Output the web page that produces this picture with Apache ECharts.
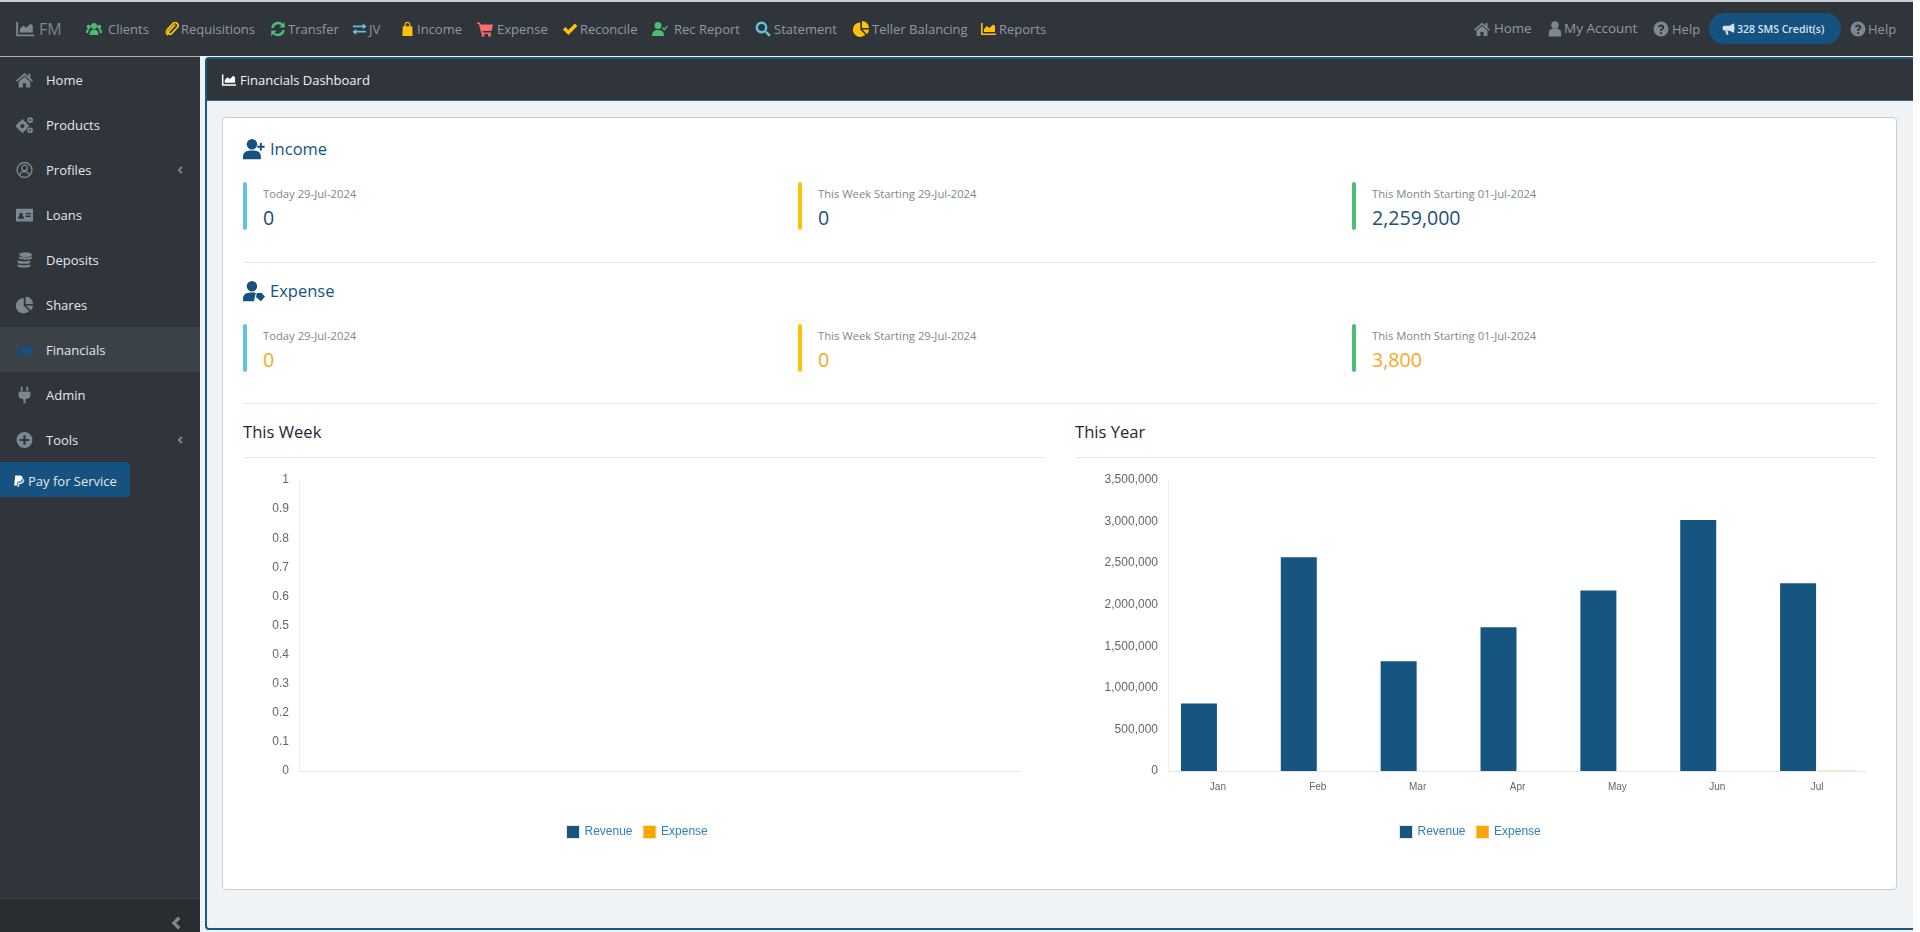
<!DOCTYPE html>
<html>
<head>
<meta charset="utf-8">
<title>Financials Dashboard</title>
<script src="https://cdn.jsdelivr.net/npm/echarts@6/dist/echarts.min.js"></script>
<style>
  html, body { margin: 0; padding: 0; width: 1920px; height: 932px; overflow: hidden; background: #fff; }
  body { font-family: "Open Sans", sans-serif; position: relative; }
  .box { position: absolute; box-sizing: border-box; }
  .t { position: absolute; white-space: nowrap; line-height: 1; transform: translateY(-50%); }
  .i { position: absolute; transform: translateY(-50%); fill: currentColor; }
  #weekChart { position: absolute; left: 240px; top: 465px; width: 810px; height: 385px; }
  #yearChart { position: absolute; left: 1070px; top: 465px; width: 806px; height: 385px; }
</style>
</head>
<body>
<div class="box" style="left:0;top:0;width:1913px;height:2px;background:#c8ced3"></div>
<div class="box" style="left:0;top:2px;width:1913px;height:54px;background:#2f353a"></div>
<div class="box" style="left:0;top:56px;width:200px;height:876px;background:#2f353a;border-top:1px solid #a9b0b5"></div>
<div class="box" style="left:200px;top:56px;width:1713px;height:876px;background:#f0f3f5"></div>
<div class="box" style="left:205px;top:57px;width:1708px;height:873px;border:2px solid #1a5a85;border-right:0;border-radius:4px 0 0 4px"></div>
<div class="box" style="left:207px;top:59px;width:1706px;height:42px;background:#2f353a;border-bottom:1px solid #2a6a96"></div>
<div class="box" style="left:222px;top:117px;width:1675px;height:773px;background:#fff;border:1px solid #c8ced3;border-radius:4px"></div>
<div class="box" style="left:0;top:327px;width:200px;height:45px;background:#3a4248"></div>
<div class="box" style="left:0;top:898px;width:200px;height:34px;background:#282d31;border-top:1px solid #343a3e"></div>
<div class="box" style="left:0;top:462px;width:130px;height:35px;background:#15527f;border-radius:0 3px 3px 0"></div>
<div class="box" style="left:1709px;top:13px;width:132px;height:31px;background:#15527f;border-radius:16px"></div>
<div id="weekChart"></div>
<div id="yearChart"></div>
<script>
// chart data
var weekCategories = []
var weekRevenue = []
var weekExpense = []
var monthCategories = ['Jan', 'Feb', 'Mar', 'Apr', 'May', 'Jun', 'Jul']
var yearRevenue = [812000, 2570000, 1320000, 1728000, 2170000, 3018000, 2259000]
var yearExpense = [0, 0, 0, 0, 0, 0, 3800]
var legendNames = ['Revenue', 'Expense']
var seriesColors = ['#15557f', '#ffa500']

var icons = {
  chart: '<path d="M1 2h1.600v10.600H16V14H1z"/><path d="M4 11V8l3-3 2.500 2L13 3.500l2 1.500v6z"/>',
  users: '<circle cx="8" cy="5" r="3"/><path d="M3.500 14c0-4 2-5.500 4.500-5.500s4.500 1.500 4.500 5.500z"/><circle cx="2.800" cy="5.800" r="2.100"/><circle cx="13.200" cy="5.800" r="2.100"/><path d="M0 12c0-3 1-4.200 2.800-4.200l.7.300C2.500 9.200 2.200 10.800 2.200 12zM16 12c0-3-1-4.200-2.800-4.200l-.7.300c1 1.100 1.300 2.700 1.300 3.900z"/>',
  clip: '<path d="M11.500 3L4.500 10.500a2 2 0 0 0 3 2.800l6.500-7a3.300 3.300 0 0 0-5-4.500L2.500 9a4.600 4.600 0 0 0 1 6" fill="none" stroke="currentColor" stroke-width="2"/>',
  refresh: '<path d="M2.500 7a5.700 5.700 0 0 1 10-3" fill="none" stroke="currentColor" stroke-width="2.400"/><path d="M14.800 1v5.500H9.300zM1.200 15V9.500h5.500z"/><path d="M13.500 9a5.700 5.700 0 0 1-10 3" fill="none" stroke="currentColor" stroke-width="2.400"/>',
  exchange: '<path d="M1 4.200h10.500V1.800L15.500 5.300 11.500 8.300V6.200H1zM15 9.800H4.500V7.700L.5 11 4.500 14.300V11.800H15z"/>',
  bag: '<path d="M3 5h10l.5 10.500h-11z"/><path d="M5.500 6V3.500a2.500 2.500 0 0 1 5 0V6" fill="none" stroke="currentColor" stroke-width="1.300"/>',
  cart: '<path d="M0 1.500h3l.6 2H16l-1.500 6.500H5.500l.4 1.500h8.100v1.500H4.500L1.900 3H0z"/><circle cx="6" cy="14.300" r="1.500"/><circle cx="12.500" cy="14.300" r="1.500"/>',
  check: '<path d="M1 8.500l2.400-2.400 3 3L12.800 2.500 15.400 5l-9 9z"/>',
  userCheck: '<circle cx="6" cy="4.500" r="3.500"/><path d="M0 15c0-4.500 2.500-6 6-6s6 1.500 6 6z"/><path d="M10 7.500l1.200-1.200 1.300 1.300 2.500-3 1 1-3.500 4z"/>',
  search: '<circle cx="6.500" cy="6.500" r="4.700" fill="none" stroke="currentColor" stroke-width="2.400"/><path d="M10 11.700l1.700-1.700 4 4.100-1.700 1.700z"/>',
  pie: '<path d="M7.300 1.500v7.200l5 5A7.200 7.200 0 1 1 7.300 1.500z"/><path d="M9 0a7 7 0 0 1 7 7H9z"/><path d="M9.300 8.500H16a7 7 0 0 1-2 4.700z"/>',
  home: '<path d="M8 1.500L0 8.500l1 1.200L8 3.800l7 5.900 1-1.200-2.500-2.200V2h-2v2.600z"/><path d="M8 5L2.500 9.600V15h4v-4h3v4h4V9.600z"/>',
  user: '<circle cx="8" cy="4" r="3.800"/><path d="M1.800 15.500V12c0-3 2-4.500 6.200-4.500s6.200 1.500 6.200 4.500v3.500z"/>',
  help: '<path fill-rule="evenodd" d="M8 .5a7.500 7.500 0 1 1 0 15 7.500 7.500 0 0 1 0-15zM5 5.800l1.600.9C6.900 6 7.300 5.500 8 5.500s1.200.4 1.200.9c0 1.100-2.200 1.300-2.200 3.200v.4h2v-.3c0-1.100 2.300-1.400 2.300-3.400C11.300 4.500 9.800 3.500 8 3.500 6.600 3.500 5.600 4.400 5 5.800zM7 11.200v1.800h2v-1.800z"/>',
  horn: '<path d="M15 1v12L9 10H3.500a2 2 0 0 1 0-6H9z"/><path d="M4 10.500h3l1 4.500H5.500z"/><path d="M15.500 5.500a1.600 1.600 0 0 1 0 3z"/>',
  cogs: '<circle cx="6" cy="9" r="3.500" fill="none" stroke="currentColor" stroke-width="3"/><path d="M4.800 2.800h2.400v2H4.800zM4.800 13.200h2.400v2H4.800zM0 7.800h2v2.400H0zM10 7.800h2v2.400h-2z"/><circle cx="13.300" cy="3.300" r="1.800" fill="none" stroke="currentColor" stroke-width="1.800"/><circle cx="13.300" cy="13" r="1.800" fill="none" stroke="currentColor" stroke-width="1.800"/>',
  userCircle: '<circle cx="8" cy="8" r="7" fill="none" stroke="currentColor" stroke-width="1.300"/><circle cx="8" cy="6" r="2.600" fill="none" stroke="currentColor" stroke-width="1.200"/><path d="M3.500 12.500c.5-2.300 2-3 4.500-3s4 .7 4.500 3" fill="none" stroke="currentColor" stroke-width="1.200"/>',
  card: '<path fill-rule="evenodd" d="M0 2h16v12H0zM2 5.500v6h5.500v-1.700L6 8.800a1.700 1.700 0 1 0-2.500 0L2 9.800zM9 6v1.300h5V6zM9 8.500v1.300h5V8.500z"/>',
  coins: '<ellipse cx="9" cy="3" rx="6" ry="2.300"/><path d="M3 4.600c1.500 1.300 10.500 1.300 12 0v2c-1.500 1.500-10.500 1.500-12 0z"/><path d="M1.500 8.300c1.500 1.300 10.500 1.300 12 0v2.200c-1.500 1.500-10.500 1.500-12 0z"/><path d="M1.500 12c1.500 1.300 10.500 1.300 12 0v1.800c-1.500 1.800-10.500 1.800-12 0z"/>',
  plug: '<path d="M4.500 0h1.800v4.500H4.500zM9.700 0h1.800v4.500H9.700zM2.500 5h11v3.500c0 2-1.500 3.300-4.500 3.500v4H7v-4c-3-.2-4.500-1.500-4.500-3.500z"/>',
  plus: '<path fill-rule="evenodd" d="M8 .5a7.500 7.500 0 1 1 0 15 7.500 7.500 0 0 1 0-15zM7 3.500v3.500H3.500v2H7v3.500h2V9h3.500V7H9V3.500z"/>',
  paypal: '<path d="M3 .5h6c3 0 4.500 1.700 3.800 4.300C12.200 7.500 10.200 9 7.500 9H6l-1 5H1.500z"/><path d="M13.800 4.500c1.400 1 1.600 2.600 1 4.300-.8 2-2.500 3.200-4.700 3.200H8.800L8 15.500H5.600L6.300 10h1.800c3 0 5.200-2 5.700-5z" opacity=".8"/>',
  back: '<path d="M11 1.500L13.500 4l-4.500 4 4.500 4-2.500 2.500L4.500 8z"/>',
  userPlus: '<circle cx="6.500" cy="4.500" r="3.800"/><path d="M0 15.500v-2c0-3 2-4.500 6.500-4.500s6.500 1.500 6.500 4.500v2z"/><path d="M12.300 3.700h1.400v2h2v1.400h-2v2h-1.400v-2h-2V5.700h2z"/>',
  userTag: '<circle cx="6.500" cy="4.500" r="3.800"/><path d="M0 15.500v-2c0-3 2-4.500 6.500-4.500 1 0 2 .1 2.800.3l-1.300 6.200z"/><path d="M10 9.500h3.500l2.500 2.500-3 3.500-3.500-3z"/>'
}
var green = '#4dbd74', yellow = '#ffc107', sky = '#63c2de', red = '#f86c6b', gray = '#7b8791', navy = '#15527f'

function icon(name, x, y, size, color) {
  document.body.insertAdjacentHTML('beforeend',
    '<svg class="i" viewBox="0 0 16 16" width="' + size + '" height="' + size + '" style="left:' + x + 'px;top:' + y + 'px;color:' + color + '">' + icons[name] + '</svg>')
}
function label(text, x, y, size, color, extra) {
  document.body.insertAdjacentHTML('beforeend',
    '<div class="t" style="left:' + x + 'px;top:' + y + 'px;font-size:' + size + 'px;color:' + color + ';' + (extra || '') + '">' + text + '</div>')
}
function block(x, y, w, h, color, radius) {
  document.body.insertAdjacentHTML('beforeend',
    '<div class="box" style="left:' + x + 'px;top:' + y + 'px;width:' + w + 'px;height:' + h + 'px;background:' + color + ';border-radius:' + (radius || 0) + 'px"></div>')
}

// top bar
icon('chart', 15, 29, 19, gray)
label('FM', 39, 29, 16, gray)
;[
  ['Clients', 'users', 86, 108, green, 16, 13],
  ['Requisitions', 'clip', 165, 181, yellow, 14, 13],
  ['Transfer', 'refresh', 270, 288, green, 16, 13],
  ['JV', 'exchange', 352, 369, sky, 15, 13],
  ['Income', 'bag', 400, 417, yellow, 15, 13],
  ['Expense', 'cart', 477, 497, red, 16, 13],
  ['Reconcile', 'check', 562, 580, yellow, 16, 13],
  ['Rec Report', 'userCheck', 652, 674, green, 16, 13],
  ['Statement', 'search', 755, 774, sky, 16, 13],
  ['Teller Balancing', 'pie', 853, 872, yellow, 16, 13],
  ['Reports', 'chart', 980, 999, yellow, 16, 13],
  ['Home', 'home', 1474, 1494, gray, 16, 13.300],
  ['My Account', 'user', 1547, 1564, gray, 16, 13.500],
  ['Help', 'help', 1653, 1672, gray, 16, 13],
  ['Help', 'help', 1850, 1868, gray, 16, 13]
].forEach(function(n) {
  icon(n[1], n[2], 29, n[5], n[4])
  label(n[0], n[3], 29, n[6], '#8f9aa3')
})
icon('horn', 1722, 29, 13, '#d5e3ee')
label('328 SMS Credit(s)', 1737, 29, 10.500, '#d5e3ee', 'font-weight:600')

// sidebar
;[
  ['Home', 'home', 80],
  ['Products', 'cogs', 125],
  ['Profiles', 'userCircle', 170],
  ['Loans', 'card', 215],
  ['Deposits', 'coins', 260],
  ['Shares', 'pie', 305],
  ['Financials', 'chart', 350],
  ['Admin', 'plug', 395],
  ['Tools', 'plus', 440]
].forEach(function(n) {
  icon(n[1], 16, n[2], 17, n[0] === 'Financials' ? navy : gray)
  label(n[0], 46, n[2], 13, '#e4e7ea')
})
icon('back', 175, 170, 9, gray)
icon('back', 175, 440, 9, gray)
icon('back', 167, 923, 16, gray)
icon('paypal', 13, 481, 12, '#fff')
label('Pay for Service', 28, 481, 13, '#e4e7ea')

// panel title
icon('chart', 221, 80, 15, '#fff')
label('Financials Dashboard', 240, 80, 13, '#f0f3f5')

// stats
function statRow(titleText, titleIcon, titleY, topY, rows, valueColor) {
  icon(titleIcon, 243, titleY, 22, navy)
  label(titleText, 270, titleY, 16.500, navy)
  rows.forEach(function(r) {
    block(r[0], topY, 4, 48, r[1], 2)
    label(r[2], r[0] + 20, topY + 12, 11.250, '#7b8791')
    label(r[3], r[0] + 20, topY + 36, 19.600, valueColor)
  })
}
statRow('Income', 'userPlus', 149, 182, [
  [243, sky, 'Today 29-Jul-2024', '0'],
  [798, yellow, 'This Week Starting 29-Jul-2024', '0'],
  [1352, green, 'This Month Starting 01-Jul-2024', '2,259,000']
], '#1d4f7a')
statRow('Expense', 'userTag', 291, 324, [
  [243, sky, 'Today 29-Jul-2024', '0'],
  [798, yellow, 'This Week Starting 29-Jul-2024', '0'],
  [1352, green, 'This Month Starting 01-Jul-2024', '3,800']
], '#f9a825')
block(244, 262, 1632, 1, '#e4e7ea')
block(244, 403, 1632, 1, '#e4e7ea')
label('This Week', 243, 432, 16.600, '#23282c')
label('This Year', 1075, 432, 16.600, '#23282c')
block(244, 457, 801, 1, '#e4e7ea')
block(1076, 457, 800, 1, '#e4e7ea')

function buildOption(categories, revenue, expense, yMax, yStep, gridLeft, gridWidth, legendLeft) {
  return {
    animation: false,
    color: seriesColors,
    textStyle: { fontFamily: '"Liberation Sans", Arial, sans-serif' },
    grid: { left: gridLeft, top: 15, width: gridWidth, height: 291 },
    legend: {
      data: legendNames,
      left: legendLeft,
      top: 360,
      padding: 0,
      itemWidth: 13,
      itemHeight: 13,
      itemGap: 10,
      icon: 'rect',
      itemStyle: { borderColor: '#e6e6e6', borderWidth: 1 },
      textStyle: { color: '#2d82b7', fontSize: 12 }
    },
    xAxis: {
      type: 'category',
      data: categories,
      axisLine: { lineStyle: { color: '#e4e7ea' } },
      axisTick: { show: false },
      axisLabel: { color: '#666', fontSize: 10, margin: 11 }
    },
    yAxis: {
      type: 'value',
      min: 0,
      max: yMax,
      interval: yStep,
      axisLine: { show: true, lineStyle: { color: '#eef0f2' } },
      axisTick: { show: false },
      splitLine: { show: false },
      axisLabel: { color: '#666', fontSize: 12, margin: 10, padding: [0, 0, 4, 0] }
    },
    series: [
      { name: legendNames[0], type: 'bar', data: revenue, barWidth: 36, barGap: '5.500%' },
      { name: legendNames[1], type: 'bar', data: expense, barWidth: 36, barGap: '5.500%' }
    ]
  }
}

var weekChart = echarts.init(document.getElementById('weekChart'))
weekChart.setOption(buildOption(weekCategories, weekRevenue, weekExpense, 1, 0.1, 59, 721, 326))
var yearChart = echarts.init(document.getElementById('yearChart'))
yearChart.setOption(buildOption(monthCategories, yearRevenue, yearExpense, 3500000, 500000, 98, 699, 329))
</script>
</body>
</html>
